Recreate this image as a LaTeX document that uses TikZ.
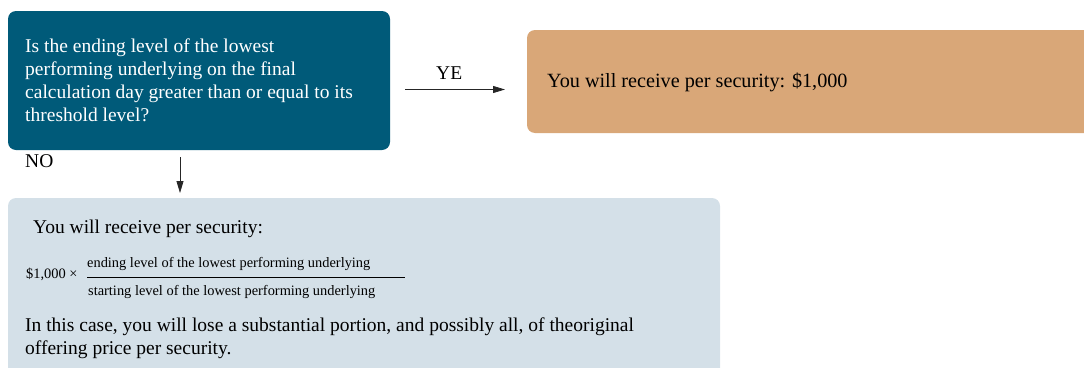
\documentclass[tikz,border=0pt]{standalone}
\usepackage{fontspec}
\setmainfont{Liberation Serif}
\usetikzlibrary{arrows.meta}
\definecolor{qblue}{HTML}{005A79}
\definecolor{yesorange}{HTML}{D9A778}
\definecolor{nogrey}{HTML}{D4E0E8}
\tikzset{
  box/.style={rounded corners=8pt, inner sep=0pt, outer sep=0pt},
  arr/.style={-{Triangle[length=12pt,width=7pt]}, line width=0.8pt, black!85},
  lbl/.style={font=\fontsize{19.5}{23}\selectfont, inner sep=0pt, anchor=base west},
  small/.style={font=\fontsize{14.4}{16}\selectfont},
}
\begin{document}
\begin{tikzpicture}[x=1pt,y=-1pt]
\useasboundingbox (0,0) rectangle (1084,367);
% boxes
\node[box, fill=qblue, minimum width=382pt, minimum height=139pt, anchor=north west] (q) at (8,11) {};
\node[box, fill=yesorange, minimum width=580pt, minimum height=103pt, anchor=north west] (yes) at (527,30) {};
\node[box, fill=nogrey, minimum width=712pt, minimum height=190pt, anchor=north west] (no) at (8,198) {};
% question text
\node[lbl, text=white] (q1) at (25,52) {Is the ending level of the lowest};
\node[lbl, text=white] (q2) at (25,75) {performing underlying on the final};
\node[lbl, text=white] (q3) at (25,98) {calculation day greater than or equal to its};
\node[lbl, text=white] (q4) at (25,121) {threshold level?};
% yes text
\node[lbl, font=\fontsize{20.2}{23}\selectfont] (yt) at (547,87) {You will receive per security: \$1,000};
% connectors
\coordinate (ys) at (405,89.5);
\coordinate (ye) at (505,89.5);
\draw[arr] (ys) -- (ye);
\node[lbl] (yl) at (436,79) {YE};
\coordinate (ns) at (180,157);
\coordinate (ne) at (180,193);
\draw[arr] (ns) -- (ne);
\node[lbl] (nl) at (25,167) {NO};
% no box text
\node[lbl] (n1) at (33,233) {You will receive per security:};
\node[lbl, small] (n2) at (26,278) {\$1,000 \texttimes};
\node[lbl, small] (n3) at (87,267) {ending level of the lowest performing underlying};
\coordinate (fa) at (87,277);
\coordinate (fb) at (405,277);
\draw[line width=0.7pt] (fa) -- (fb);
\node[lbl, small] (n4) at (88,295) {starting level of the lowest performing underlying};
\node[lbl] (n5) at (25,331) {In this case, you will lose a substantial portion, and possibly all, of theoriginal};
\node[lbl] (n6) at (25,354) {offering price per security.};
\end{tikzpicture}
\end{document}
